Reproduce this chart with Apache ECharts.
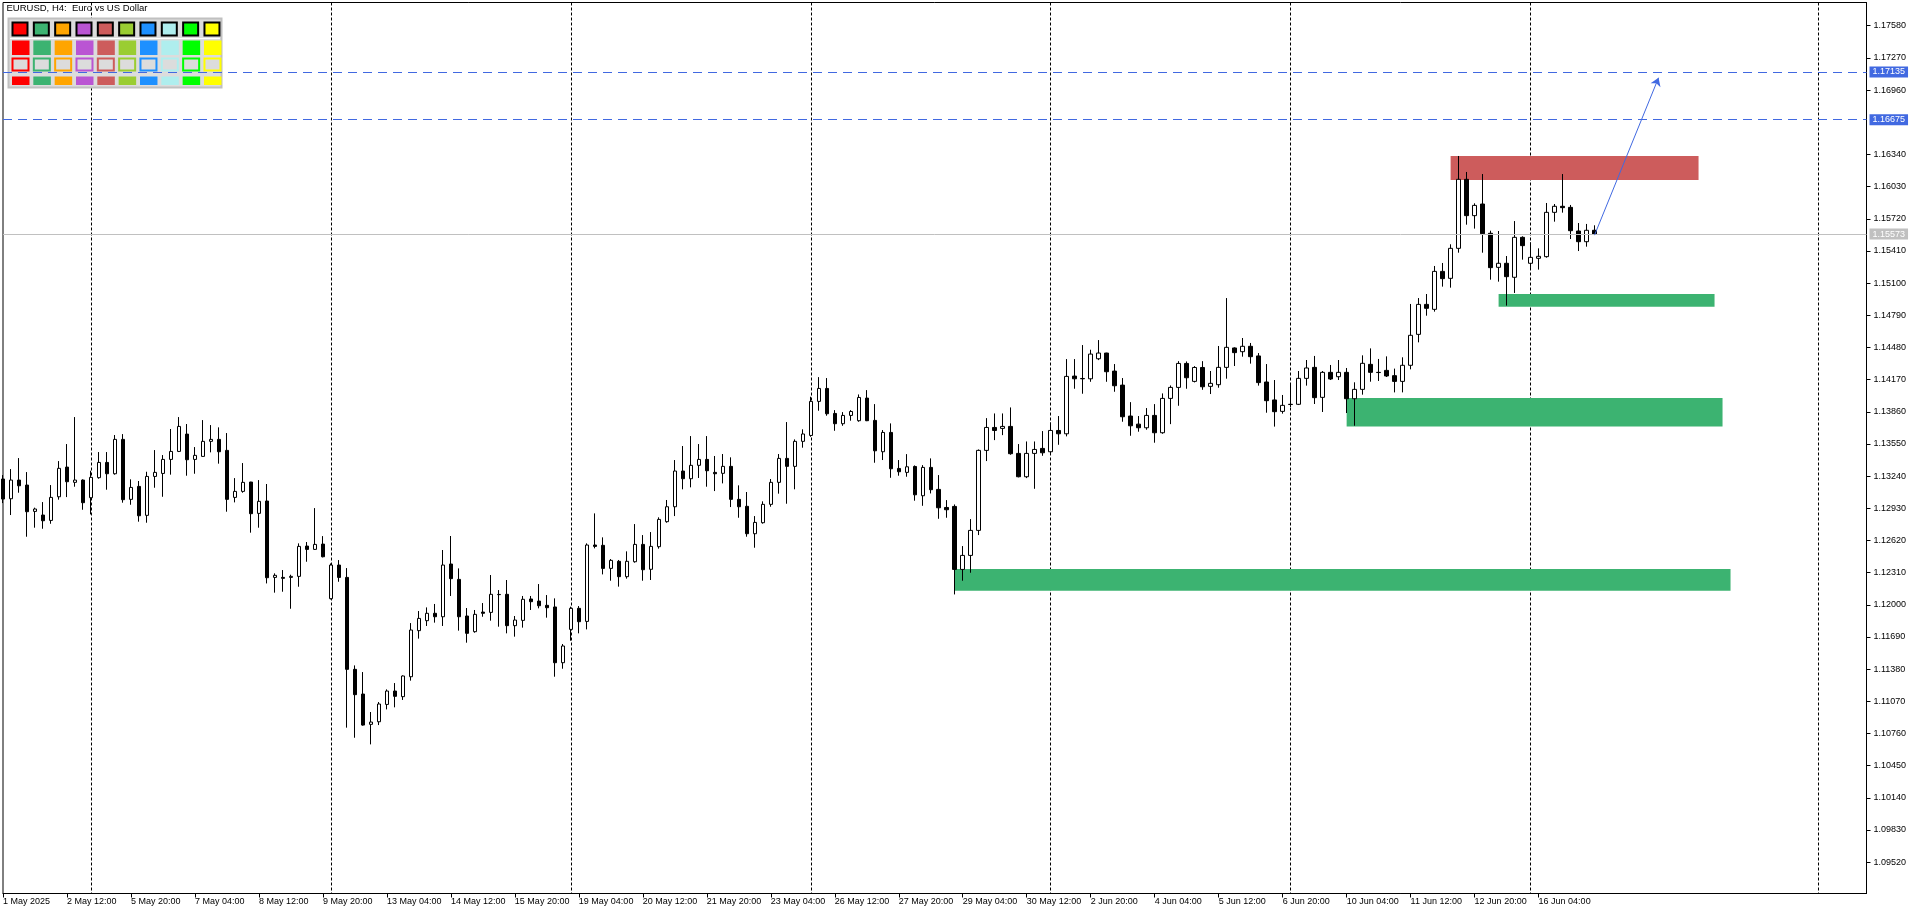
<!DOCTYPE html>
<html>
<head>
<meta charset="utf-8">
<title>EURUSD H4</title>
<script src="https://cdn.jsdelivr.net/npm/echarts@6/dist/echarts.min.js"></script>
<style>
html,body{margin:0;padding:0;background:#fff;}
#chart{width:1920px;height:915px;}
</style>
</head>
<body>
<div id="chart"></div>
<script>
// ---- data (EURUSD H4) ----
const opens = [1.13212,1.13022,1.13202,1.13154,1.12900,1.12865,1.12813,1.13041,1.13327,1.13180,
1.13202,1.13032,1.13225,1.13372,1.13263,1.13594,1.13016,1.13141,1.12862,1.13237,
1.13266,1.13401,1.13478,1.13645,1.13401,1.13430,1.13575,1.13594,1.13488,1.13035,
1.13093,1.13183,1.12881,1.13000,1.12264,1.12264,1.12264,1.12274,1.12566,1.12534,
1.12585,1.12059,1.12383,1.12264,1.11378,1.11140,1.10848,1.10873,1.11040,1.11169,
1.11115,1.11307,1.11751,1.11847,1.11918,1.11885,1.12393,1.12245,1.11892,1.11741,
1.11930,1.11927,1.12100,1.12101,1.11799,1.11850,1.12056,1.12036,1.11995,1.11979,
1.11442,1.11763,1.11966,1.11840,1.12576,1.12573,1.12351,1.12419,1.12271,1.12415,
1.12582,1.12342,1.12560,1.12801,1.12945,1.13289,1.13215,1.13344,1.13401,1.13276,
1.13267,1.13334,1.13016,1.12949,1.12685,1.12791,1.12968,1.13180,1.13411,1.13334,
1.13575,1.13632,1.13960,1.14085,1.13844,1.13745,1.13825,1.13774,1.13992,1.13777,
1.13475,1.13661,1.13314,1.13276,1.13333,1.13051,1.13324,1.13112,1.12938,1.12948,
1.12341,1.12476,1.12717,1.13488,1.13709,1.13700,1.13719,1.13459,1.13234,1.13459,
1.13507,1.13475,1.13680,1.13648,1.14204,1.14181,1.14178,1.14371,1.14426,1.14252,
1.14117,1.13819,1.13741,1.13706,1.13825,1.13658,1.13989,1.14095,1.14326,1.14153,
1.14287,1.14105,1.14121,1.14288,1.14475,1.14439,1.14491,1.14398,1.14147,1.13974,
1.13864,1.13932,1.13932,1.14182,1.14288,1.13999,1.14240,1.14198,1.14240,1.13986,
1.14076,1.14317,1.14240,1.14259,1.14208,1.14153,1.14308,1.14606,1.14895,1.14847,
1.15213,1.15146,1.15435,1.16100,1.15750,1.15862,1.15580,1.15252,1.15291,1.15156,
1.15541,1.15291,1.15339,1.15355,1.15782,1.15840,1.15830,1.15602,1.15499,1.15609];

const highs = [1.13250,1.13308,1.13414,1.13279,1.12936,1.12990,1.13154,1.13385,1.13549,1.13809,
1.13209,1.13292,1.13472,1.13472,1.13636,1.13645,1.13209,1.13193,1.13282,1.13491,
1.13443,1.13694,1.13809,1.13742,1.13520,1.13780,1.13732,1.13710,1.13655,1.13221,
1.13366,1.13185,1.13202,1.13164,1.12303,1.12335,1.12290,1.12592,1.12605,1.12932,
1.12662,1.12399,1.12431,1.12354,1.11416,1.11352,1.10967,1.11063,1.11185,1.11246,
1.11320,1.11824,1.11940,1.11975,1.12008,1.12528,1.12663,1.12351,1.11969,1.11950,
1.12017,1.12287,1.12142,1.12239,1.11892,1.12085,1.12085,1.12200,1.12094,1.12062,
1.11622,1.11982,1.11988,1.12592,1.12881,1.12650,1.12441,1.12432,1.12515,1.12778,
1.12672,1.12701,1.12843,1.13010,1.13395,1.13530,1.13626,1.13549,1.13626,1.13434,
1.13453,1.13421,1.13151,1.13087,1.12855,1.12997,1.13212,1.13453,1.13761,1.13594,
1.13691,1.14005,1.14194,1.14185,1.13876,1.13857,1.13876,1.14027,1.14069,1.13934,
1.13684,1.13748,1.13395,1.13452,1.13343,1.13346,1.13411,1.13250,1.13009,1.12967,
1.12566,1.12826,1.13497,1.13799,1.13844,1.13844,1.13902,1.13549,1.13574,1.13574,
1.13674,1.13757,1.13819,1.14368,1.14368,1.14503,1.14458,1.14551,1.14429,1.14320,
1.14185,1.13953,1.13819,1.13896,1.13934,1.14037,1.14114,1.14348,1.14345,1.14300,
1.14348,1.14253,1.14494,1.14956,1.14481,1.14571,1.14523,1.14426,1.14320,1.14166,
1.14022,1.14118,1.14253,1.14359,1.14398,1.14253,1.14311,1.14359,1.14282,1.14144,
1.14404,1.14471,1.14369,1.14394,1.14276,1.14385,1.14899,1.14956,1.14995,1.15265,
1.15294,1.15474,1.16325,1.16171,1.15869,1.16151,1.15605,1.15602,1.15361,1.15698,
1.15551,1.15493,1.15435,1.15872,1.15862,1.16151,1.15853,1.15679,1.15670,1.15657];

const lows = [1.12980,1.12865,1.13080,1.12656,1.12743,1.12733,1.12781,1.13013,1.13038,1.13138,
1.12916,1.12871,1.13215,1.13109,1.13254,1.12984,1.12964,1.12801,1.12791,1.13128,
1.13041,1.13254,1.13472,1.13244,1.13263,1.13427,1.13469,1.13360,1.12897,1.12987,
1.13080,1.12695,1.12743,1.12206,1.12117,1.12126,1.11962,1.12174,1.12415,1.12528,
1.12457,1.12052,1.12222,1.10816,1.10719,1.10835,1.10655,1.10841,1.10992,1.11012,
1.11083,1.11269,1.11674,1.11796,1.11828,1.11796,1.12085,1.11751,1.11635,1.11731,
1.11885,1.11847,1.11789,1.11725,1.11693,1.11780,1.11950,1.11966,1.11876,1.11307,
1.11384,1.11654,1.11725,1.11763,1.12544,1.12293,1.12232,1.12175,1.12252,1.12406,
1.12232,1.12239,1.12541,1.12791,1.12855,1.13113,1.13132,1.13222,1.13138,1.13096,
1.13170,1.12942,1.12839,1.12656,1.12550,1.12782,1.12945,1.13071,1.12974,1.13113,
1.13514,1.13619,1.13870,1.13822,1.13677,1.13725,1.13774,1.13764,1.13770,1.13369,
1.13395,1.13224,1.13244,1.13234,1.13003,1.12954,1.13073,1.12829,1.12839,1.12100,
1.12232,1.12309,1.12672,1.13385,1.13587,1.13635,1.13446,1.13228,1.13221,1.13118,
1.13436,1.13459,1.13542,1.13623,1.14082,1.14034,1.14149,1.14358,1.14149,1.14053,
1.13764,1.13629,1.13668,1.13687,1.13562,1.13648,1.13741,1.13918,1.14082,1.14143,
1.14072,1.14031,1.14092,1.14179,1.14301,1.14391,1.14324,1.14112,1.13851,1.13717,
1.13842,1.13905,1.13925,1.14112,1.13935,1.13858,1.14166,1.14166,1.13848,1.13726,
1.14025,1.14150,1.14157,1.14195,1.14047,1.14047,1.14269,1.14529,1.14786,1.14825,
1.15066,1.15056,1.15393,1.15663,1.15625,1.15393,1.15133,1.15114,1.14883,1.15005,
1.15326,1.15246,1.15230,1.15345,1.15692,1.15779,1.15525,1.15409,1.15451,1.15563];

const closes = [1.13019,1.13202,1.13147,1.12897,1.12923,1.12810,1.13035,1.13315,1.13186,1.13202,
1.12984,1.13228,1.13372,1.13263,1.13594,1.13013,1.13131,1.12858,1.13237,1.13276,
1.13401,1.13478,1.13719,1.13398,1.13440,1.13575,1.13594,1.13475,1.13016,1.13093,
1.13180,1.12878,1.12997,1.12261,1.12284,1.12255,1.12274,1.12563,1.12534,1.12582,
1.12463,1.12383,1.12264,1.11378,1.11134,1.10841,1.10870,1.11044,1.11169,1.11118,
1.11314,1.11757,1.11869,1.11918,1.11885,1.12383,1.12252,1.11885,1.11725,1.11908,
1.11918,1.12101,1.12098,1.11799,1.11853,1.12053,1.12030,1.11991,1.11972,1.11442,
1.11603,1.11966,1.11837,1.12576,1.12563,1.12351,1.12428,1.12271,1.12419,1.12582,
1.12338,1.12563,1.12823,1.12945,1.13289,1.13215,1.13344,1.13401,1.13292,1.13263,
1.13334,1.13016,1.12945,1.12685,1.12794,1.12968,1.13180,1.13411,1.13334,1.13575,
1.13646,1.13960,1.14085,1.13841,1.13745,1.13825,1.13863,1.13998,1.13774,1.13484,
1.13661,1.13311,1.13282,1.13330,1.13060,1.13324,1.13109,1.12935,1.12916,1.12341,
1.12476,1.12717,1.13488,1.13709,1.13680,1.13719,1.13456,1.13234,1.13459,1.13497,
1.13465,1.13680,1.13648,1.14201,1.14178,1.14178,1.14416,1.14426,1.14246,1.14111,
1.13812,1.13725,1.13706,1.13825,1.13658,1.13989,1.14095,1.14326,1.14188,1.14287,
1.14101,1.14134,1.14288,1.14481,1.14430,1.14491,1.14391,1.14141,1.13967,1.13861,
1.13922,1.13930,1.14182,1.14282,1.13996,1.14240,1.14176,1.14240,1.13986,1.14076,
1.14327,1.14240,1.14238,1.14205,1.14153,1.14308,1.14597,1.14895,1.14857,1.15213,
1.15143,1.15435,1.16100,1.15750,1.15849,1.15576,1.15249,1.15291,1.15162,1.15541,
1.15461,1.15348,1.15358,1.15782,1.15840,1.15827,1.15605,1.15499,1.15609,1.15573];

// time-axis labels, one every 8 bars starting at bar 0
const xTickLabels = ['1 May 2025','2 May 12:00','5 May 20:00','7 May 04:00','8 May 12:00','9 May 20:00',
'13 May 04:00','14 May 12:00','15 May 20:00','19 May 04:00','20 May 12:00','21 May 20:00',
'23 May 04:00','26 May 12:00','27 May 20:00','29 May 04:00','30 May 12:00','2 Jun 20:00',
'4 Jun 04:00','5 Jun 12:00','6 Jun 20:00','10 Jun 04:00','11 Jun 12:00','12 Jun 20:00','16 Jun 04:00'];
const xLabelStep = 8;
const totalSlots = 234;               // bars + empty right-hand shift area
const weekGridBars = [11,41,71,101,131,161,191,227];

// price-axis tick labels (1.16650 is hidden under the 1.16675 level tag)
const yTickValues = [1.09520,1.09830,1.10140,1.10450,1.10760,1.11070,1.11380,1.11690,1.12000,
1.12310,1.12620,1.12930,1.13240,1.13550,1.13860,1.14170,1.14480,1.14790,1.15100,1.15410,
1.15720,1.16030,1.16340,1.16960,1.17270,1.17580];
const yMin = 1.09218, yMax = 1.17804;

// drawn objects
const supplyZones = [{from:181, to:212, top:1.16325, bottom:1.16093}];
const demandZones = [
  {from:187, to:214, top:1.14995, bottom:1.14873},
  {from:168, to:215, top:1.13993, bottom:1.13717},
  {from:119, to:216, top:1.12344, bottom:1.12135}
];
const levelLines = [1.17135, 1.16675];
const bidPrice = 1.15573;
const arrowFrom = [199, 1.15563], arrowTo = [207, 1.17079];
const paletteColors = ['#FF0000','#3CB371','#FFA500','#BA55D3','#CD5C5C','#9ACD32','#1E90FF','#AFEEEE','#00FF00','#FFFF00'];

// ---- build ----
const categories = Array.from({length: totalSlots}, (_, i) => String(i));
const candleData = opens.map((o, i) => [o, closes[i], lows[i], highs[i]]);
const FONT = 'Liberation Sans';

const areaData = [];
supplyZones.forEach(z => areaData.push([{coord:[z.from, z.top], itemStyle:{color:'#CD5C5C'}}, {coord:[z.to, z.bottom]}]));
demandZones.forEach(z => areaData.push([{coord:[z.from, z.top], itemStyle:{color:'#3CB371'}}, {coord:[z.to, z.bottom]}]));

const lineData = [];
levelLines.forEach(v => lineData.push({
  yAxis: v,
  lineStyle: {color:'#4169E1', width:1, type:[9,6]},
  label: {show:true, position:'end', distance:3, formatter: v.toFixed(5), color:'#fff',
          backgroundColor:'#4169E1', padding:[1,3,1,3], fontFamily:FONT, fontSize:9, lineHeight:9}
}));
lineData.push({
  yAxis: bidPrice,
  lineStyle: {color:'#C0C0C0', width:1, type:'solid'},
  label: {show:true, position:'end', distance:3, formatter: bidPrice.toFixed(5), color:'#fff',
          backgroundColor:'#C0C0C0', padding:[1,3,1,3], fontFamily:FONT, fontSize:9, lineHeight:9}
});
lineData.push([
  {coord: arrowFrom, symbol:'none', lineStyle:{color:'#4169E1', width:1, type:'solid'}, label:{show:false}},
  {coord: arrowTo, symbol:'arrow', symbolSize:8}
]);

// palette panel graphics
const graphics = [];
graphics.push({type:'text', left:6.5, top:3, z:10, style:{text:'EURUSD, H4:  Euro vs US Dollar', font:'9.5px ' + FONT, fill:'#000'}});
graphics.push({type:'rect', z:4, shape:{x:8.5, y:18.5, width:213, height:69}, style:{fill:'#DCDCDC', stroke:'#C0C0C0', lineWidth:2}});
graphics.push({type:'line', z:4, shape:{x1:10, y1:38.5, x2:220, y2:38.5}, style:{stroke:'#fff', lineWidth:1}});
paletteColors.forEach((c, k) => {
  const x = 12 + k * 21.33;
  graphics.push({type:'rect', z:5, shape:{x:x+0.5, y:22.5, width:15, height:13}, style:{fill:c, stroke:'#000', lineWidth:2}});
  graphics.push({type:'rect', z:5, shape:{x:x, y:40.5, width:17.5, height:14.5}, style:{fill:c}});
  graphics.push({type:'rect', z:5, shape:{x:x+0.5, y:58.5, width:16, height:12}, style:{fill:'#DCDCDC', stroke:c, lineWidth:2}});
  graphics.push({type:'rect', z:5, shape:{x:x, y:76.5, width:17.5, height:8.5}, style:{fill:c}});
});

const chart = echarts.init(document.getElementById('chart'), null, {renderer:'canvas'});
chart.setOption({
  animation: false,
  backgroundColor: '#fff',
  textStyle: {fontFamily: FONT},
  grid: {left:2.5, top:2.5, right:53.5, bottom:21.5, show:true, borderColor:'#000', borderWidth:1, backgroundColor:'#fff'},
  xAxis: {
    type: 'category',
    data: categories,
    boundaryGap: false,
    axisLine: {show:true, lineStyle:{color:'#000', width:1}},
    axisTick: {show:true, length:4, lineStyle:{color:'#000'},
               interval: (i) => i % xLabelStep === 0 && i / xLabelStep < xTickLabels.length},
    axisLabel: {show:true, color:'#000', fontFamily:FONT, fontSize:9, margin:4, align:'left',
                interval: (i) => i % xLabelStep === 0 && i / xLabelStep < xTickLabels.length,
                formatter: (v, i) => xTickLabels[Math.round(i / xLabelStep)] || ''},
    splitLine: {show:true, lineStyle:{color:'#000', width:1, type:[3,2]},
                interval: (i) => weekGridBars.indexOf(i) >= 0}
  },
  yAxis: {
    type: 'value',
    position: 'right',
    min: yMin, max: yMax,
    axisLine: {show:true, lineStyle:{color:'#000', width:1}},
    axisTick: {show:true, length:4, inside:false, lineStyle:{color:'#000'}, customValues: yTickValues},
    axisLabel: {show:true, color:'#000', fontFamily:FONT, fontSize:9, margin:7,
                customValues: yTickValues, formatter: (v) => v.toFixed(5)},
    splitLine: {show:false}
  },
  graphic: graphics,
  series: [{
    type: 'candlestick',
    name: 'EURUSD',
    data: candleData,
    barWidth: 4,
    itemStyle: {color:'#fff', color0:'#000', borderColor:'#000', borderColor0:'#000', borderWidth:1},
    markArea: {silent:true, itemStyle:{opacity:1}, data: areaData},
    markLine: {silent:true, precision:5, symbol:['none','none'], animation:false, data: lineData}
  }]
});
</script>
</body>
</html>
